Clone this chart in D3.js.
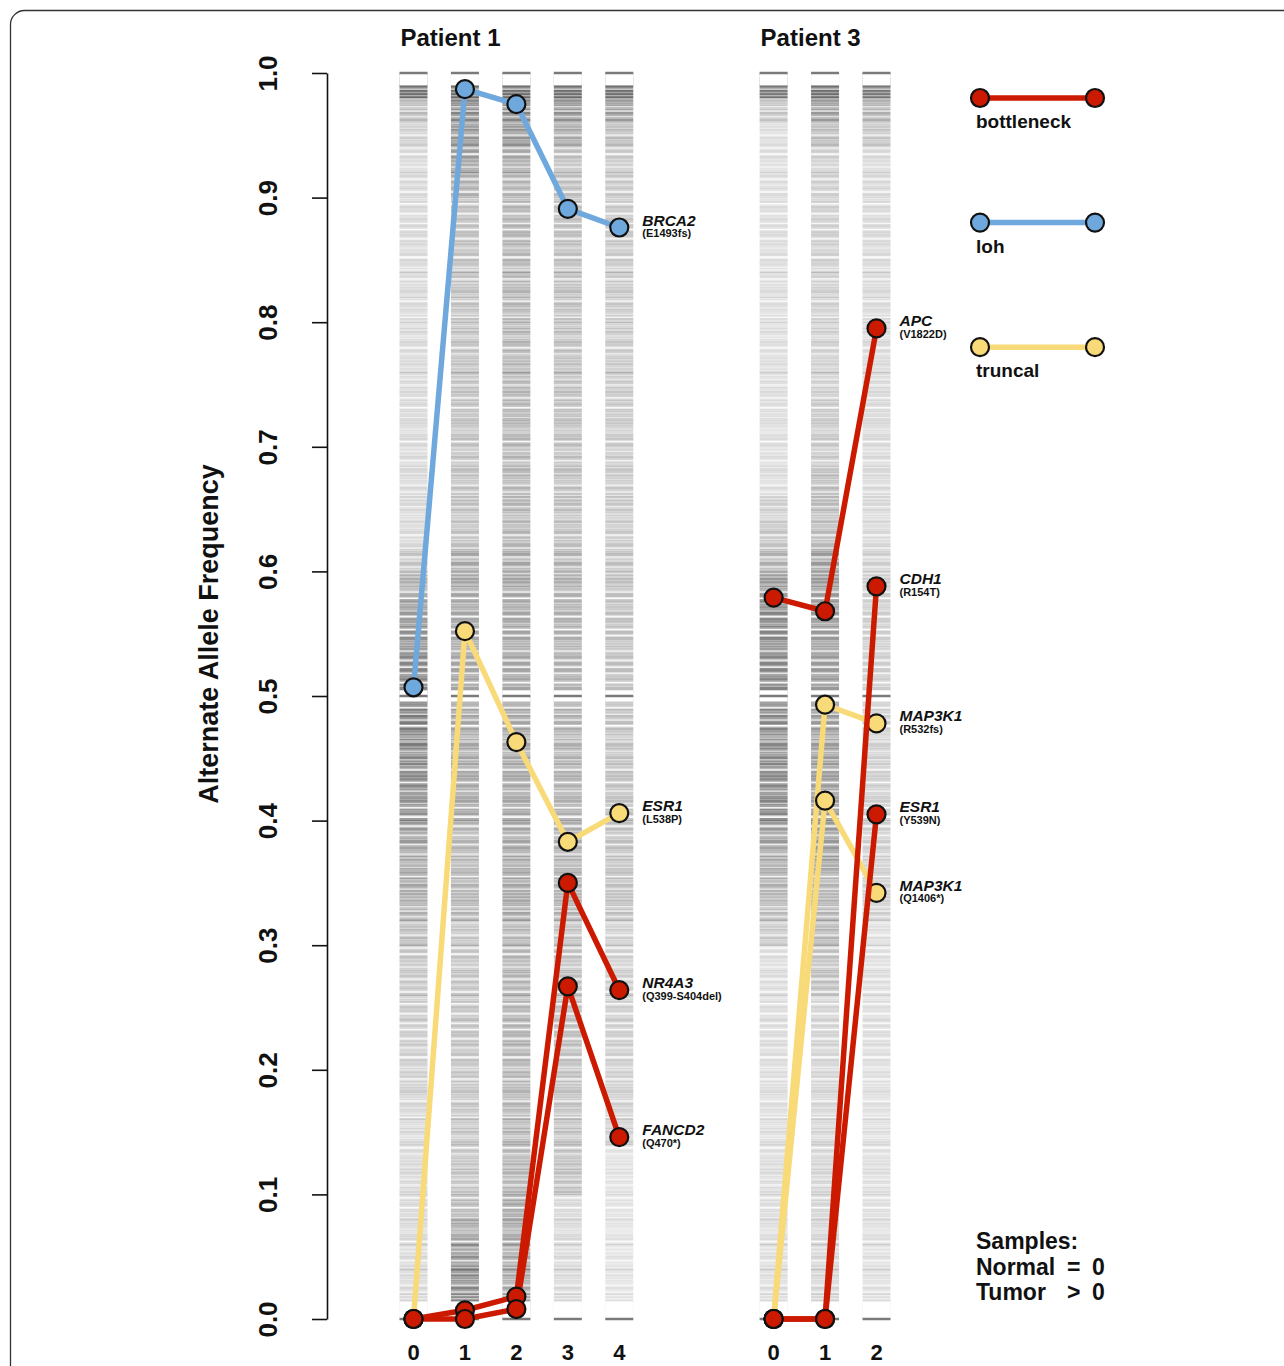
<!DOCTYPE html>
<html>
<head>
<meta charset="utf-8">
<script src="https://cdn.jsdelivr.net/npm/d3@7"></script>
<style>
  body { margin: 0; background: #fff; }
  svg { display: block; }
  text { font-family: "Liberation Sans", Arial, Helvetica, sans-serif; font-weight: bold; fill: #111; }
</style>
</head>
<body>
<svg id="chart" width="1284" height="1366"></svg>
<script>
// ---- axis values ----
const yTickValues = [0, 0.1, 0.2, 0.3, 0.4, 0.5, 0.6, 0.7, 0.8, 0.9, 1.0];
const yTickLabels = ["0.0", "0.1", "0.2", "0.3", "0.4", "0.5", "0.6", "0.7", "0.8", "0.9", "1.0"];
const axisTitle = "Alternate Allele Frequency";

// ---- patients and samples (sample 0 = normal, >0 = tumour) ----
const patientNames = ["Patient 1", "Patient 3"];
const p1Samples = ["0", "1", "2", "3", "4"];
const p3Samples = ["0", "1", "2"];
const p1Slots = [0, 1, 2, 3, 4];
const p3Slots = [7, 8, 9];

// ---- tracked mutations ----
const p1Genes   = ["BRCA2", "ESR1", "NR4A3", "FANCD2"];
const p1Changes = ["(E1493fs)", "(L538P)", "(Q399-S404del)", "(Q470*)"];
const p1Class   = ["loh", "truncal", "bottleneck", "bottleneck"];
const p1BRCA2   = [0.507, 0.987, 0.975, 0.891, 0.876];
const p1ESR1    = [0.000, 0.552, 0.463, 0.383, 0.406];
const p1NR4A3   = [0.000, 0.007, 0.018, 0.350, 0.264];
const p1FANCD2  = [0.000, 0.000, 0.008, 0.267, 0.146];

const p3Genes   = ["APC", "CDH1", "MAP3K1", "ESR1", "MAP3K1"];
const p3Changes = ["(V1822D)", "(R154T)", "(R532fs)", "(Y539N)", "(Q1406*)"];
const p3Class   = ["bottleneck", "bottleneck", "truncal", "bottleneck", "truncal"];
const p3APC     = [0.579, 0.568, 0.795];
const p3CDH1    = [0.000, 0.000, 0.588];
const p3MAP3K1a = [0.000, 0.493, 0.478];
const p3ESR1    = [0.000, 0.000, 0.405];
const p3MAP3K1b = [0.000, 0.416, 0.342];

// ---- legend ----
const legendClasses = ["bottleneck", "loh", "truncal"];
const classColors   = ["#cc1a00", "#6fa8dc", "#f8da78"];
const samplesNote   = [["Samples:", "", ""], ["Normal", "=", "0"], ["Tumor", ">", "0"]];

// ---- background allele-frequency density per sample
//      (relative darkness in bins of 0.02, from AF 1.00 down to 0.00) ----
const p1Density0 = [.75,.35,.25,.2,.2,.2,.2,.2,.2,.2,.2,.2,.2,.2,.2,.2,.2,.2,.2,.3,.4,.5,.55,.6,.6,.65,.65,.6,.6,.55,.5,.45,.45,.4,.35,.3,.28,.27,.25,.25,.25,.22,.2,.2,.2,.2,.2,.2,.2,.2];
const p1Density1 = [.75,.6,.55,.5,.4,.32,.32,.32,.32,.32,.32,.32,.32,.32,.32,.32,.32,.32,.32,.45,.45,.45,.45,.45,.45,.45,.45,.45,.45,.45,.38,.38,.38,.38,.3,.3,.3,.3,.3,.3,.3,.3,.3,.3,.3,.35,.45,.55,.6,.6];
const p1Density2 = [.75,.6,.55,.45,.38,.38,.38,.38,.38,.38,.38,.38,.38,.38,.38,.38,.38,.38,.38,.45,.45,.45,.45,.45,.45,.45,.45,.45,.45,.45,.45,.45,.45,.45,.38,.38,.38,.38,.38,.38,.38,.38,.38,.38,.38,.45,.45,.45,.45,.45];
const p1Density3 = [.75,.55,.45,.33,.33,.33,.33,.33,.33,.33,.33,.33,.33,.33,.33,.33,.33,.33,.33,.4,.4,.4,.4,.4,.4,.4,.4,.4,.4,.4,.4,.4,.4,.4,.32,.32,.32,.32,.32,.32,.32,.32,.32,.32,.32,.2,.2,.2,.2,.2];
const p1Density4 = [.75,.5,.35,.28,.28,.28,.28,.28,.28,.28,.28,.28,.28,.28,.28,.28,.28,.28,.28,.32,.32,.32,.32,.32,.32,.32,.32,.32,.32,.32,.32,.32,.32,.32,.25,.25,.25,.25,.25,.25,.25,.25,.25,.15,.15,.15,.15,.15,.15,.15];
const p3Density0 = [.7,.3,.18,.18,.18,.18,.18,.18,.18,.18,.18,.18,.18,.18,.18,.18,.18,.25,.3,.4,.5,.6,.6,.6,.6,.6,.6,.6,.6,.6,.5,.45,.4,.35,.28,.18,.18,.18,.18,.18,.18,.18,.18,.18,.18,.18,.18,.18,.18,.18];
const p3Density1 = [.75,.5,.35,.25,.25,.25,.25,.25,.25,.25,.25,.25,.25,.28,.28,.28,.35,.35,.35,.5,.5,.5,.5,.5,.5,.5,.5,.5,.5,.5,.5,.5,.38,.38,.38,.32,.32,.22,.22,.22,.22,.22,.22,.22,.22,.22,.22,.22,.22,.22];
const p3Density2 = [.7,.4,.3,.2,.2,.2,.2,.2,.2,.2,.2,.2,.2,.2,.2,.2,.2,.2,.2,.25,.25,.25,.25,.25,.25,.25,.25,.25,.25,.25,.25,.25,.25,.25,.17,.17,.17,.17,.17,.17,.17,.17,.17,.17,.17,.17,.17,.17,.17,.17];

// ------------------------------------------------------------------
const binWidth = 0.02;
const gapBands = [[0.990, 1.0], [0.4955, 0.5045], [0, 0.014]];
const markerAF = [0, 0.5, 1];

const svg = d3.select("#chart");
const W = 1284, H = 1366;

const y = d3.scaleLinear().domain([0, 1]).range([1319, 73]);
const x = d3.scaleLinear().domain([0, 9]).range([413.5, 876.5]);
const color = d3.scaleOrdinal().domain(legendClasses).range(classColors);
const stripHalf = 14;

// frame
svg.append("rect")
  .attr("x", 10.5).attr("y", 10.5)
  .attr("width", 1300).attr("height", 1400)
  .attr("rx", 14)
  .attr("fill", "none").attr("stroke", "#333").attr("stroke-width", 1.3);

// soft horizontal streak texture for the density strips
const defs = svg.append("defs");
const f = defs.append("filter").attr("id", "streaks")
  .attr("filterUnits", "userSpaceOnUse")
  .attr("x", 0).attr("y", 0).attr("width", W).attr("height", H)
  .attr("color-interpolation-filters", "sRGB");
f.append("feTurbulence").attr("type", "fractalNoise")
  .attr("baseFrequency", "0 0.32").attr("numOctaves", 2).attr("seed", 11).attr("result", "noise");
f.append("feColorMatrix").attr("in", "noise").attr("type", "matrix")
  .attr("values", "0 0 0 0 0  0 0 0 0 0  0 0 0 0 0  2.6 0 0 0 -0.55").attr("result", "mask");
f.append("feGaussianBlur").attr("in", "mask").attr("stdDeviation", "0 0.4").attr("result", "softMask");
f.append("feComposite").attr("in", "SourceGraphic").attr("in2", "softMask").attr("operator", "in");

const strips = [
  { slot: p1Slots[0], density: p1Density0 },
  { slot: p1Slots[1], density: p1Density1 },
  { slot: p1Slots[2], density: p1Density2 },
  { slot: p1Slots[3], density: p1Density3 },
  { slot: p1Slots[4], density: p1Density4 },
  { slot: p3Slots[0], density: p3Density0 },
  { slot: p3Slots[1], density: p3Density1 },
  { slot: p3Slots[2], density: p3Density2 }
];

const stripG = svg.append("g").attr("filter", "url(#streaks)");
strips.forEach(s => {
  stripG.selectAll(null)
    .data(s.density)
    .join("rect")
    .attr("x", x(s.slot) - stripHalf)
    .attr("width", stripHalf * 2)
    .attr("y", (d, k) => y(1 - k * binWidth))
    .attr("height", (d, k) => y(1 - (k + 1) * binWidth) - y(1 - k * binWidth) + 0.5)
    .attr("fill", "#444")
    .attr("fill-opacity", d => Math.min(1, d * 1.1));
});

// blank bands around 0, 0.5 and 1, with a reference line at each
const stripOver = svg.append("g");
strips.forEach(s => {
  stripOver.selectAll(null).data(gapBands).join("rect")
    .attr("x", x(s.slot) - stripHalf).attr("width", stripHalf * 2)
    .attr("y", d => y(d[1])).attr("height", d => y(d[0]) - y(d[1]))
    .attr("fill", "#fff");
  stripOver.selectAll(null).data(markerAF).join("line")
    .attr("x1", x(s.slot) - stripHalf).attr("x2", x(s.slot) + stripHalf)
    .attr("y1", d => y(d)).attr("y2", d => y(d))
    .attr("stroke", "#7a7a7a").attr("stroke-width", 2.5);
});

// y axis
const yAxis = d3.axisLeft(y).tickValues(yTickValues)
  .tickFormat((d, i) => yTickLabels[i]).tickSize(15).tickSizeOuter(0);
const ag = svg.append("g").attr("transform", "translate(327,0)").call(yAxis);
ag.select(".domain").attr("stroke", "#111").attr("stroke-width", 1.6);
ag.selectAll(".tick line").attr("stroke", "#111").attr("stroke-width", 1.6);
ag.selectAll(".tick text")
  .attr("transform", "rotate(-90)")
  .attr("x", 0).attr("y", -59).attr("dy", "0.36em")
  .attr("text-anchor", "middle")
  .style("font-family", "'Liberation Sans', Arial, sans-serif")
  .style("font-weight", "bold").style("font-size", "26px").attr("fill", "#111");

svg.append("text")
  .attr("transform", "translate(208,634) rotate(-90)")
  .attr("dy", "0.36em")
  .attr("text-anchor", "middle")
  .style("font-size", "27px")
  .text(axisTitle);

// patient titles and sample labels
const patientSlots = [p1Slots, p3Slots];
const patientSamples = [p1Samples, p3Samples];
patientNames.forEach((name, p) => {
  svg.append("text")
    .attr("x", x(patientSlots[p][0]) - stripHalf + 1)
    .attr("y", 46)
    .style("font-size", "24px")
    .text(name);
  svg.selectAll(null).data(patientSamples[p]).join("text")
    .attr("x", (d, i) => x(patientSlots[p][i]))
    .attr("y", 1360)
    .attr("text-anchor", "middle")
    .style("font-size", "22px")
    .text(d => d);
});

// mutation trajectories
const mutations = [];
[p1BRCA2, p1ESR1, p1NR4A3, p1FANCD2].forEach((v, i) =>
  mutations.push({ values: v, slots: p1Slots, gene: p1Genes[i], change: p1Changes[i], cls: p1Class[i] }));
[p3APC, p3CDH1, p3MAP3K1a, p3ESR1, p3MAP3K1b].forEach((v, i) =>
  mutations.push({ values: v, slots: p3Slots, gene: p3Genes[i], change: p3Changes[i], cls: p3Class[i] }));

const drawOrder = ["truncal", "loh", "bottleneck"];
const line = d3.line();
const marks = svg.append("g");
drawOrder.forEach(cls => {
  const ms = mutations.filter(m => m.cls === cls);
  ms.forEach(m => {
    marks.append("path")
      .attr("d", line(m.values.map((v, i) => [x(m.slots[i]), y(v)])))
      .attr("fill", "none").attr("stroke", color(cls))
      .attr("stroke-width", 5.5).attr("stroke-linejoin", "round");
  });
  ms.forEach(m => {
    marks.selectAll(null).data(m.values).join("circle")
      .attr("cx", (d, i) => x(m.slots[i])).attr("cy", d => y(d))
      .attr("r", 9).attr("fill", color(cls))
      .attr("stroke", "#111").attr("stroke-width", 2.2);
  });
});

// gene labels at the last sample
const labels = svg.append("g");
mutations.forEach(m => {
  const last = m.values.length - 1;
  const lx = x(m.slots[last]) + 23;
  const ly = y(m.values[last]);
  labels.append("text").attr("x", lx).attr("y", ly - 2)
    .style("font-size", "15.5px").style("font-style", "italic").text(m.gene);
  labels.append("text").attr("x", lx).attr("y", ly + 9.5)
    .style("font-size", "11px").text(m.change);
});

// legend
const legendTop = 98;
const legendStep = y(0) - y(0.1);
const lg = svg.append("g");
legendClasses.forEach((cls, i) => {
  const ly = legendTop + i * legendStep;
  lg.append("line").attr("x1", 980).attr("x2", 1095).attr("y1", ly).attr("y2", ly)
    .attr("stroke", color(cls)).attr("stroke-width", 5.5);
  lg.selectAll(null).data([980, 1095]).join("circle")
    .attr("cx", d => d).attr("cy", ly).attr("r", 9)
    .attr("fill", color(cls)).attr("stroke", "#111").attr("stroke-width", 2.2);
  lg.append("text").attr("x", 976).attr("y", ly + 30)
    .style("font-size", "19px").text(cls);
});

// sample legend
const noteX = [976, 1067, 1092];
samplesNote.forEach((row, r) => {
  row.forEach((t, c) => {
    if (!t) return;
    svg.append("text").attr("x", noteX[c]).attr("y", 1249 + r * 25.5)
      .style("font-size", "23px").text(t);
  });
});
</script>
</body>
</html>
